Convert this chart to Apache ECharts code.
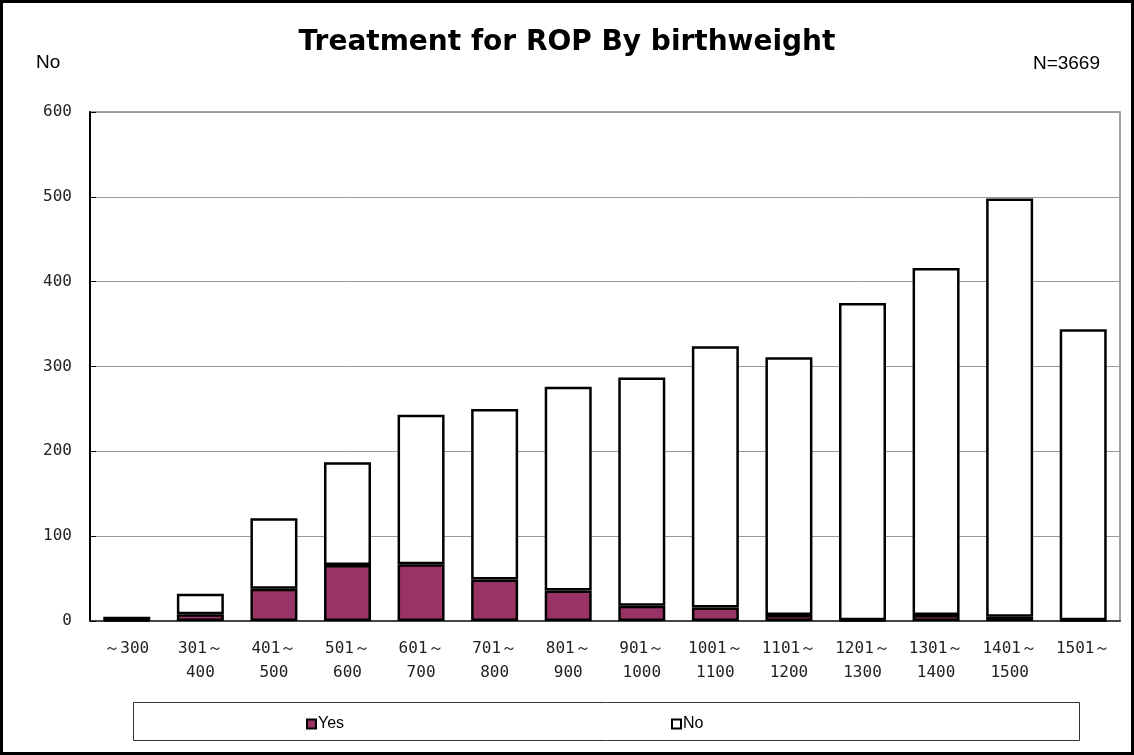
<!DOCTYPE html>
<html>
<head>
<meta charset="utf-8">
<script src="https://cdn.jsdelivr.net/npm/echarts@6/dist/echarts.min.js"></script>
<style>
  html, body { margin: 0; padding: 0; background: #fff; }
  #chart { width: 1134px; height: 755px; }
</style>
</head>
<body>
<div id="chart"></div>
<script>
// Birthweight groups (g)
const categories = ['～300', '301～\n400', '401～\n500', '501～\n600', '601～\n700', '701～\n800',
  '801～\n900', '901～\n1000', '1001～\n1100', '1101～\n1200', '1201～\n1300', '1301～\n1400',
  '1401～\n1500', '1501～'];
// Infants treated for ROP per group
const yesValues = [1, 8, 38, 66, 67, 49, 36, 18, 16, 7, 1, 7, 5, 1];
// Infants not treated per group
const noValues = [4, 24, 83, 121, 176, 201, 240, 269, 308, 304, 374, 409, 493, 343];
const yTicks = [0, 100, 200, 300, 400, 500, 600];

const chart = echarts.init(document.getElementById('chart'), null, { renderer: 'canvas' });

const barBorder = { borderColor: '#000', borderWidth: 2.5 };

chart.setOption({
  animation: false,
  backgroundColor: '#fff',
  title: {
    text: 'Treatment for ROP By birthweight',
    left: 'center',
    top: 24,
    textStyle: { fontFamily: 'DejaVu Sans', fontWeight: 'bold', fontSize: 28, color: '#000' }
  },
  graphic: [
    { type: 'rect', shape: { x: 1.5, y: 1.5, width: 1131, height: 752 },
      style: { fill: 'none', stroke: '#000', lineWidth: 3 }, z: 100 },
    { type: 'rect', shape: { x: 133.5, y: 702.5, width: 946, height: 38 },
      style: { fill: '#fff', stroke: '#333', lineWidth: 1 }, z: 0 },
    { type: 'text', left: 36, top: 53,
      style: { text: 'No', font: '19px "Liberation Sans"', fill: '#000' } },
    { type: 'text', right: 34, top: 54,
      style: { text: 'N=3669', font: '19px "Liberation Sans"', fill: '#000' } }
  ],
  legend: [
    { data: ['Yes'], left: 301, top: 711, itemWidth: 9, itemHeight: 9, itemGap: 4,
      icon: 'rect', textStyle: { fontFamily: 'Liberation Sans', fontSize: 16, color: '#000', padding: [0, 0, 0, -3] } },
    { data: ['No'], left: 666, top: 711, itemWidth: 9, itemHeight: 9, itemGap: 4,
      icon: 'rect', textStyle: { fontFamily: 'Liberation Sans', fontSize: 16, color: '#000', padding: [0, 0, 0, -3] } }
  ],
  grid: {
    left: 90, right: 14, top: 112, bottom: 134,
    show: true, borderColor: '#808080', borderWidth: 1.5, backgroundColor: '#fff'
  },
  xAxis: {
    type: 'category',
    data: categories,
    boundaryGap: true,
    axisLine: { lineStyle: { color: '#444', width: 2 } },
    axisTick: { inside: true, length: 5, lineStyle: { color: '#444', width: 1 } },
    axisLabel: {
      interval: 0, margin: 16, lineHeight: 24,
      fontFamily: 'DejaVu Sans Mono', fontSize: 16, color: '#222'
    }
  },
  yAxis: {
    type: 'value',
    min: yTicks[0],
    max: yTicks[yTicks.length - 1],
    interval: 100,
    axisLine: { show: true, lineStyle: { color: '#000', width: 2 } },
    axisTick: { show: true, inside: true, length: 6, lineStyle: { color: '#000' } },
    axisLabel: { margin: 18, fontFamily: 'DejaVu Sans Mono', fontSize: 16, color: '#222' },
    splitLine: { lineStyle: { color: '#999', width: 1 } }
  },
  series: [
    { name: 'Yes', type: 'bar', stack: 'total', data: yesValues, barWidth: 47,
      itemStyle: Object.assign({ color: '#993366' }, barBorder) },
    { name: 'No', type: 'bar', stack: 'total', data: noValues, barWidth: 47,
      itemStyle: Object.assign({ color: '#ffffff' }, barBorder) }
  ]
});
</script>
</body>
</html>
